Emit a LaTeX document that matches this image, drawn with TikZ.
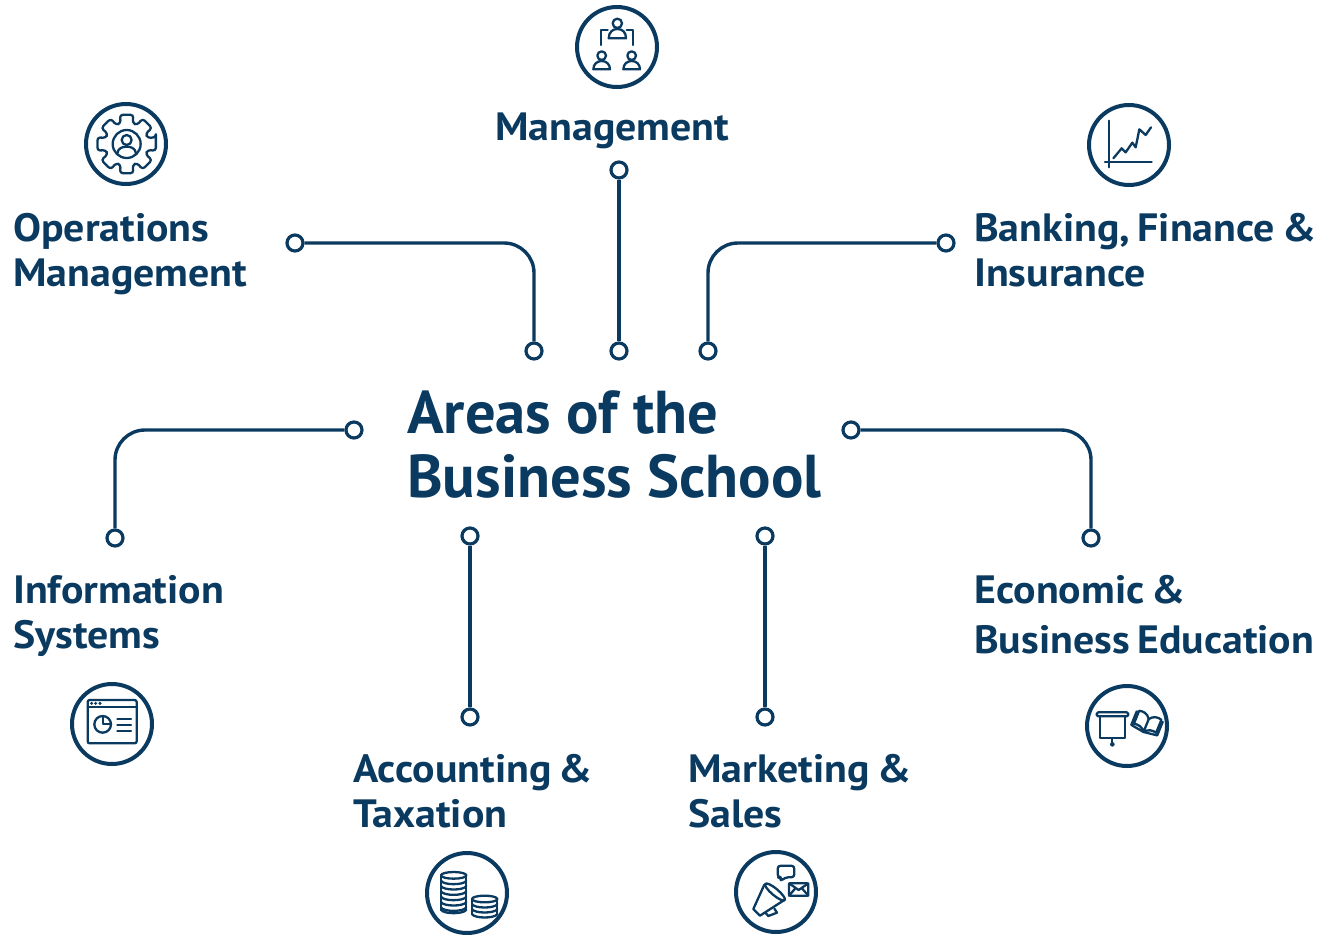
\documentclass[tikz,border=0pt]{standalone}
\usepackage{fontspec}
\setmainfont[FakeStretch=1.06,WordSpace=0.7]{PT Sans}
\newfontfamily\ttlfont{PT Sans}
\definecolor{navy}{HTML}{0A3A60}
\tikzset{
  x=1pt,y=-1pt,
  dotnode/.style={circle,draw=navy,line width=3.2pt,fill=white,minimum size=16pt,inner sep=0pt},
  link/.style={draw=navy,line width=3.4pt,rounded corners=30pt},
  ring/.style={circle,draw=navy,line width=4pt,minimum size=80pt,inner sep=0pt},
  lab/.style={text=navy,font=\fontsize{39.5}{45}\selectfont\bfseries,align=left,inner sep=0pt,anchor=base west},
  ttl/.style={text=navy,font=\ttlfont\fontsize{60.5}{64}\selectfont\bfseries,align=left,inner sep=0pt,anchor=base west},
  ic/.style={draw=navy,line width=2.3pt,line join=round,line cap=round},
  zoomed/.style={shift={(#1)},scale=1/3}
}
\begin{document}
\begin{tikzpicture}
\useasboundingbox (0,0) rectangle (1319,934);
% labels
\node[ttl] (title) at (407,497) {Areas of the\\Business School};
\node[lab] (lmgmt) at (495,140) {Management};
\node[lab] (lops) at (13,286) {Operations\\Management};
\node[lab] (lbank) at (974,286) {Banking, Finance \&\\Insurance};
\node[lab] (linfo) at (13,648) {Information\\Systems};
\node[lab,font=\fontsize{39.5}{50}\selectfont\bfseries] (lecon) at (974,653) {Economic \&\\Business Education};
\node[lab] (lacc) at (353,827) {Accounting \&\\Taxation};
\node[lab] (lmkt) at (688,827) {Marketing \&\\Sales};
% connector ends
\node[dotnode] (a1) at (295,243) {};
\node[dotnode] (a2) at (534,351) {};
\node[dotnode] (b1) at (619,170) {};
\node[dotnode] (b2) at (619,351) {};
\node[dotnode] (c1) at (946,243) {};
\node[dotnode] (c2) at (708,351) {};
\node[dotnode] (d1) at (354,430) {};
\node[dotnode] (d2) at (115,538) {};
\node[dotnode] (e1) at (851,430) {};
\node[dotnode] (e2) at (1091,538) {};
\node[dotnode] (f1) at (470,536) {};
\node[dotnode] (f2) at (470,717) {};
\node[dotnode] (g1) at (765,536) {};
\node[dotnode] (g2) at (765,717) {};
\draw[link] (a1.east) -| (a2.north);
\draw[link] (b1) -- (b2);
\draw[link] (c1.west) -| (c2.north);
\draw[link] (d1.west) -| (d2.north);
\draw[link] (e1.east) -| (e2.north);
\draw[link] (f1) -- (f2);
\draw[link] (g1) -- (g2);
% icon rings
\node[ring] (r1) at (617,47) {};
\node[ring] (r2) at (126,144) {};
\node[ring] (r3) at (1129,145) {};
\node[ring] (r4) at (112,724) {};
\node[ring] (r5) at (1127,726) {};
\node[ring] (r6) at (467,893) {};
\node[ring] (r7) at (776,892) {};
% management icon
\begin{scope}[zoomed={560,0}]
\draw[ic] (172,70) circle (14);
\draw[ic] (146,115) .. controls (146,95) and (160,87) .. (172,87) .. controls (186,87) and (198,95) .. (198,115) -- cycle;
\draw[ic] (143,91) -- (124,91) -- (124,135);
\draw[ic] (200,91) -- (218,91) -- (218,135);
\draw[ic] (125,167) circle (13);
\draw[ic] (100,208) .. controls (100,192) and (112,183) .. (125,183) .. controls (138,183) and (150,192) .. (150,208) -- cycle;
\draw[ic] (215,167) circle (13);
\draw[ic] (190,208) .. controls (190,192) and (202,183) .. (215,183) .. controls (228,183) and (240,192) .. (240,208) -- cycle;
\end{scope}
% gear icon
\begin{scope}[zoomed={70,90}]
\begin{scope}[shift={(170,162)}]
\draw[ic,rounded corners=3pt] (-13:90) \foreach \a in {0,45,...,315} { -- (\a-13:90) -- (\a+13:90) -- (\a+16:65) -- (\a+29:65) } -- cycle;
\draw[ic] (0,0) circle (42);
\draw[ic] (0,-12) circle (15);
\draw[ic] (-28,28) .. controls (-26,12) and (-12,8) .. (0,8) .. controls (12,8) and (26,12) .. (28,28);
\end{scope}
\end{scope}
% chart icon
\begin{scope}[zoomed={1075,90}]
\draw[ic] (103,92) -- (103,232);
\draw[ic] (90,216) -- (230,216);
\draw[ic] (115,205) -- (140,175) -- (152,187) -- (172,158) -- (182,172) -- (193,118) -- (212,135) -- (228,112);
\end{scope}
% window icon
\begin{scope}[zoomed={60,670}]
\draw[ic,rounded corners=2pt] (83,90) rectangle (230,220);
\draw[ic] (83,111) -- (230,111);
\fill[navy] (95,100) circle (5) (107,100) circle (5) (120,100) circle (5);
\draw[ic] (128,163) circle (25);
\draw[ic] (128,138) -- (128,163) -- (153,163);
\draw[ic] (172,146) -- (213,146) (172,164) -- (213,164) (172,183) -- (213,183);
\end{scope}
% projector and book icon
\begin{scope}[zoomed={1075,675}]
\draw[ic,rounded corners=1.5pt] (65,112) rectangle (160,124);
\draw[ic] (75,124) -- (75,190) -- (150,190) -- (150,124);
\draw[ic] (112,190) -- (112,205);
\fill[navy] (112,208) circle (7);
\begin{scope}[shift={(216,145)},rotate=-22]
\draw[ic] (-42,-22) -- (-42,22) -- (0,28) -- (42,22) -- (42,-22);
\draw[ic] (0,28) -- (0,-14) .. controls (-10,-28) and (-24,-30) .. (-36,-26) -- (-36,16) .. controls (-24,13) and (-10,14) .. (0,28);
\draw[ic] (0,-14) .. controls (10,-28) and (24,-30) .. (36,-26) -- (36,16) .. controls (24,13) and (10,14) .. (0,28);
\end{scope}
\end{scope}
% coins icon
\begin{scope}[zoomed={415,844}]
\draw[ic] (116,94) ellipse (38 and 10);
\draw[ic] (78,94) -- (78,197) (154,94) -- (154,197);
\foreach \y in {110,126,142,158,174,190,197} {\draw[ic] (78,\y) .. controls (85,\y+14) and (147,\y+14) .. (154,\y);}
\draw[ic] (209,165) ellipse (38 and 10);
\draw[ic] (171,165) -- (171,210) (247,165) -- (247,210);
\foreach \y in {180,195,210} {\draw[ic] (171,\y) .. controls (178,\y+14) and (240,\y+14) .. (247,\y);}
\end{scope}
% marketing icon
\begin{scope}[zoomed={725,844}]
\draw[ic,rounded corners=3pt] (158,65) -- (208,65) -- (208,100) -- (180,100) -- (168,112) -- (168,100) -- (158,100) -- cycle;
\draw[ic,rounded corners=1pt] (192,118) rectangle (250,155);
\draw[ic] (192,118) -- (221,138) -- (250,118) (192,155) -- (212,132) (250,155) -- (230,132);
\draw[ic] (118,122) -- (85,195) -- (105,215) -- (178,168);
\draw[ic,rotate around={-40:(150,144)}] (150,144) ellipse (38 and 10);
\draw[ic] (122,207) -- (130,216) -- (156,206) -- (148,194);
\end{scope}
\end{tikzpicture}
\end{document}
